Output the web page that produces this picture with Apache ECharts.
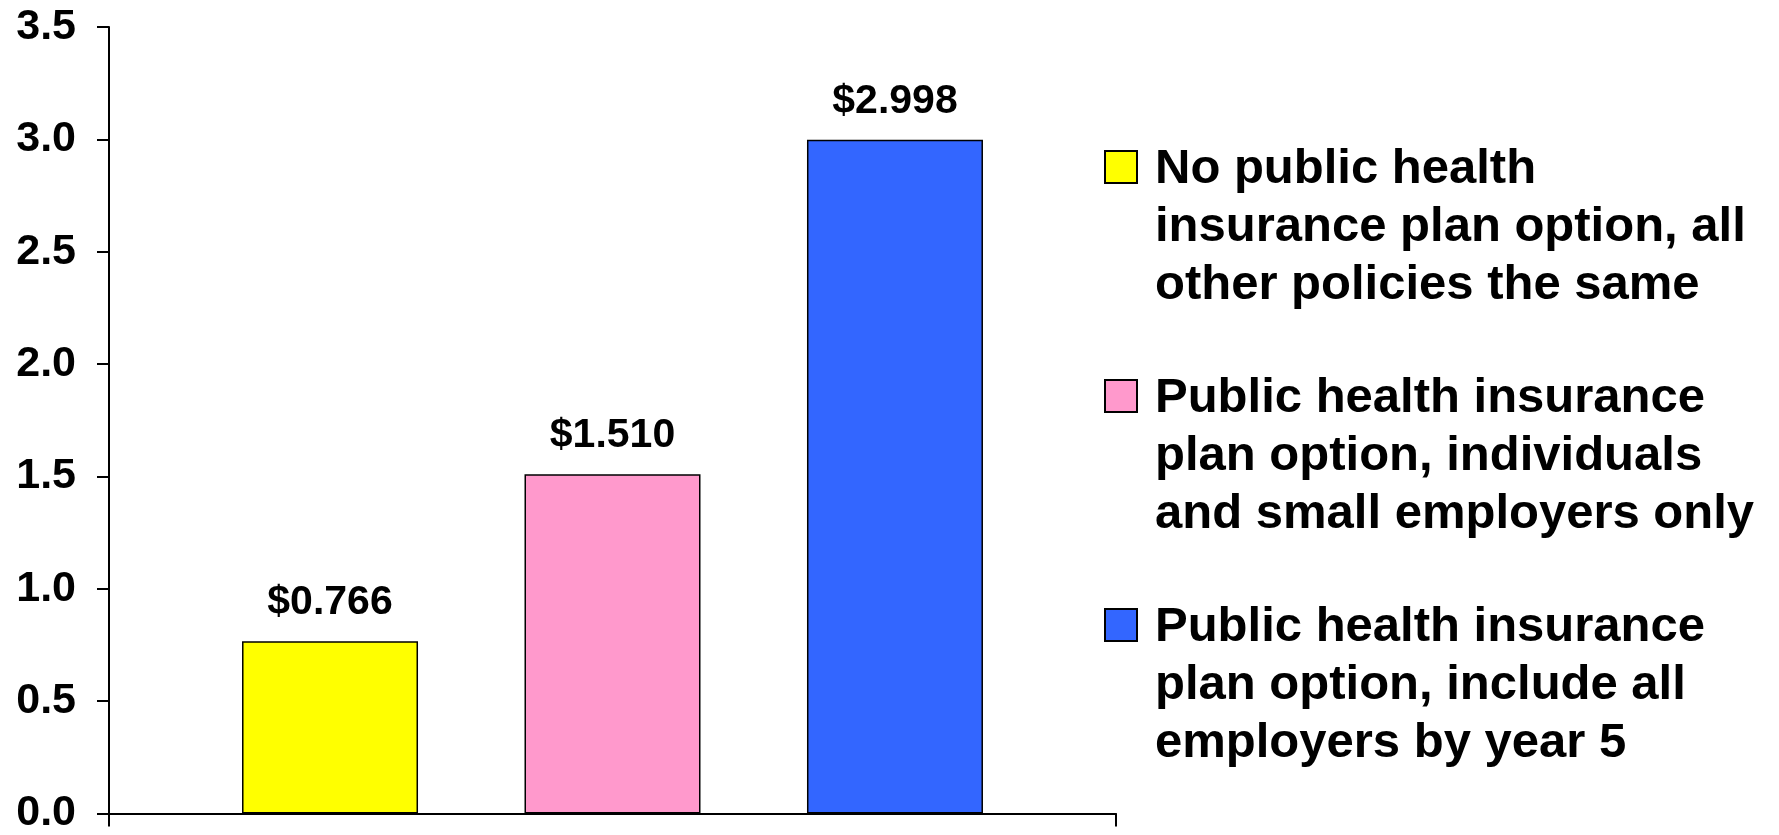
<!DOCTYPE html>
<html>
<head>
<meta charset="utf-8">
<script src="https://cdn.jsdelivr.net/npm/echarts@6/dist/echarts.min.js"></script>
<style>
  html, body { margin: 0; padding: 0; background: #ffffff; }
  #chart { width: 1779px; height: 835px; }
</style>
</head>
<body>
<div id="chart"></div>
<script>
// Cost scenarios, one bar per scenario in a single category
const categories = [''];
const seriesNames = [
  'No public health\ninsurance plan option, all\nother policies the same',
  'Public health insurance\nplan option, individuals\nand small employers only',
  'Public health insurance\nplan option, include all\nemployers by year 5'
];
const seriesValues = [0.766, 1.510, 2.998];
const seriesColors = ['#FFFF00', '#FF99CC', '#3366FF'];
const yTicks = [0, 0.5, 1.0, 1.5, 2.0, 2.5, 3.0, 3.5];

const FONT = '"Liberation Sans", Arial, Helvetica, sans-serif';

// Legend marker: square level with the first text line, padded out to the full item box
const legendIcon = 'path://M0,11L32,11L32,43L0,43Z M0,0 M45,174';

const chart = echarts.init(document.getElementById('chart'), null, { renderer: 'canvas' });

const series = seriesNames.map((name, i) => ({
  name: name,
  type: 'bar',
  data: [seriesValues[i]],
  barWidth: 176,
  barGap: '60.5%',
  itemStyle: { color: seriesColors[i], borderColor: '#000000', borderWidth: 1.5 },
  label: {
    show: true,
    position: 'top',
    distance: 18,
    formatter: p => '$' + p.value.toFixed(3),
    color: '#000000',
    fontFamily: FONT,
    fontWeight: 'bold',
    fontSize: 41
  },
  emphasis: { disabled: true }
}));

chart.setOption({
  animation: false,
  backgroundColor: '#ffffff',
  grid: { left: 109, right: 663, top: 27, bottom: 17, containLabel: false },
  legend: {
    orient: 'vertical',
    left: 1104,
    top: 139,
    padding: 0,
    itemWidth: 45,
    itemHeight: 174,
    itemGap: 53,
    icon: legendIcon,
    itemStyle: { borderColor: '#000000', borderWidth: 2 },
    textStyle: {
      color: '#000000',
      fontFamily: FONT,
      fontWeight: 'bold',
      fontSize: 49,
      lineHeight: 58
    },
    selectedMode: false,
    data: seriesNames
  },
  xAxis: {
    type: 'category',
    data: categories,
    axisLine: { show: true, lineStyle: { color: '#000000', width: 2 } },
    axisTick: { show: true, length: 13, interval: 0, lineStyle: { color: '#000000', width: 2 } },
    axisLabel: { show: false },
    splitLine: { show: false }
  },
  yAxis: {
    type: 'value',
    min: yTicks[0],
    max: yTicks[yTicks.length - 1],
    interval: 0.5,
    axisLine: { show: true, lineStyle: { color: '#000000', width: 2 } },
    axisTick: { show: true, length: 12, lineStyle: { color: '#000000', width: 2 } },
    axisLabel: {
      margin: 33,
      color: '#000000',
      fontFamily: FONT,
      fontWeight: 'bold',
      fontSize: 43,
      formatter: v => v.toFixed(1)
    },
    splitLine: { show: false }
  },
  series: series
});
</script>
</body>
</html>
